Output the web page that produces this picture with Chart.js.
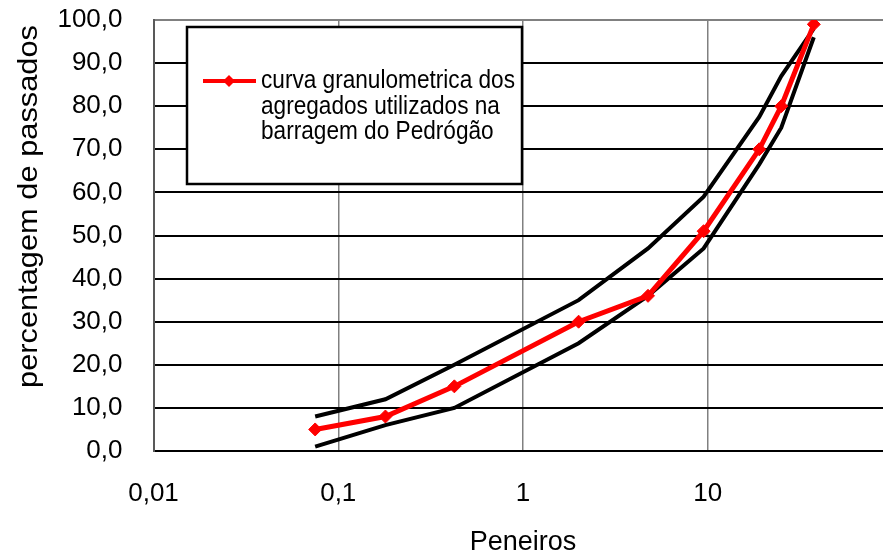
<!DOCTYPE html>
<html>
<head>
<meta charset="utf-8">
<script src="https://cdn.jsdelivr.net/npm/chart.js@4.4.1/dist/chart.umd.min.js"></script>
<style>
  html, body { margin: 0; padding: 0; background: #fff; overflow: hidden; }
  #wrap { width: 883px; height: 556px; overflow: hidden; }
  canvas { display: block; }
</style>
</head>
<body>
<div id="wrap"><canvas id="chart" width="900" height="556"></canvas></div>
<script>
// sieve openings (mm) and % passing
const sieves = [0.075, 0.18, 0.425, 2, 4.75, 9.5, 19, 25, 37.5];
const aggregateCurve = [5, 8, 15, 30, 36, 51, 70, 80, 99];
const upperLimit = [8, 12, 20, 35, 47, 59, 77.5, 87, 98];
const lowerLimit = [1, 6, 10, 25, 36, 47, 66.5, 75, 96];

const xTicks = [0.01, 0.1, 1, 10, 100];
const yTicks = [0, 10, 20, 30, 40, 50, 60, 70, 80, 90, 100];

const seriesLabel = "curva granulometrica dos agregados utilizados na barragem do Pedrógão";
const legendLines = ["curva granulometrica dos", "agregados utilizados na", "barragem do Pedrógão"];
const xTitle = "Peneiros";
const yTitle = "percentagem de passados";

const FONT = "'Liberation Sans', Arial, sans-serif";

function toPoints(values) {
    return sieves.map((s, i) => ({ x: s, y: values[i] }));
}

// stop Chart.js from reserving room for tick labels at the ends
function noEndPadding(scale) {
    scale.paddingTop = 0;
    scale.paddingBottom = 0;
    scale.paddingLeft = 0;
    scale.paddingRight = 0;
}

// legend box + axis titles drawn by hand (Excel-like look)
const decorations = {
    id: "decorations",
    afterDraw(chart) {
        const ctx = chart.ctx;
        const area = chart.chartArea;

        // legend
        ctx.save();
        ctx.fillStyle = "#fff";
        ctx.fillRect(187, 27, 335, 157);
        ctx.strokeStyle = "#000";
        ctx.lineWidth = 2.5;
        ctx.strokeRect(187, 27, 335, 157);

        ctx.strokeStyle = "#ff0000";
        ctx.lineWidth = 4;
        ctx.beginPath();
        ctx.moveTo(203, 81);
        ctx.lineTo(256, 81);
        ctx.stroke();
        ctx.fillStyle = "#ff0000";
        ctx.beginPath();
        ctx.moveTo(229, 75);
        ctx.lineTo(235, 81);
        ctx.lineTo(229, 87);
        ctx.lineTo(223, 81);
        ctx.closePath();
        ctx.fill();

        ctx.fillStyle = "#000";
        ctx.font = "26px " + FONT;
        ctx.textAlign = "left";
        ctx.textBaseline = "alphabetic";
        const baselines = [88, 114, 139];
        legendLines.forEach((line, i) => {
            ctx.save();
            ctx.translate(261, baselines[i]);
            ctx.scale(0.87, 1);
            ctx.fillText(line, 0, 0);
            ctx.restore();
        });
        ctx.restore();

        // x title
        ctx.save();
        ctx.fillStyle = "#000";
        ctx.font = "27px " + FONT;
        ctx.textAlign = "center";
        ctx.textBaseline = "alphabetic";
        ctx.fillText(xTitle, (area.left + area.right) / 2, 550);
        ctx.restore();

        // y title
        ctx.save();
        ctx.fillStyle = "#000";
        ctx.font = "28px " + FONT;
        ctx.textAlign = "center";
        ctx.textBaseline = "alphabetic";
        ctx.translate(37, 206.5);
        ctx.rotate(-Math.PI / 2);
        ctx.scale(1.1, 1);
        ctx.fillText(yTitle, 0, 0);
        ctx.restore();
    }
};

new Chart(document.getElementById("chart"), {
    type: "line",
    data: {
        datasets: [
            {
                label: seriesLabel,
                data: toPoints(aggregateCurve),
                borderColor: "#ff0000",
                backgroundColor: "#ff0000",
                borderWidth: 5,
                pointStyle: "rectRot",
                pointRadius: 6.5,
                pointBorderWidth: 1,
                tension: 0
            },
            {
                label: "upper",
                data: toPoints(upperLimit),
                borderColor: "#000",
                borderWidth: 4,
                pointRadius: 0,
                tension: 0
            },
            {
                label: "lower",
                data: toPoints(lowerLimit),
                borderColor: "#000",
                borderWidth: 4,
                pointRadius: 0,
                tension: 0
            }
        ]
    },
    options: {
        responsive: false,
        animation: false,
        devicePixelRatio: 1,
        layout: { padding: { left: 10, top: 20, right: 3, bottom: 0 } },
        plugins: {
            legend: { display: false },
            tooltip: { enabled: false }
        },
        scales: {
            x: {
                type: "logarithmic",
                min: 0.01,
                max: 100,
                afterBuildTicks: (scale) => {
                    scale.ticks = xTicks.map(v => ({ value: v, major: true }));
                },
                afterFit: (scale) => { scale.height = 105; noEndPadding(scale); },
                grid: {
                    drawTicks: false,
                    lineWidth: 1.5,
                    color: (c) => c.tick && c.tick.value === 0.01 ? "rgba(0,0,0,0)" : "#808080"
                },
                border: { color: "#000", width: 2 },
                ticks: {
                    padding: 27,
                    maxRotation: 0,
                    autoSkip: false,
                    color: "#000",
                    font: { size: 26, family: FONT },
                    callback: (v) => v === 100 ? "" : String(v).replace(".", ",")
                }
            },
            y: {
                min: 0,
                max: 100,
                afterBuildTicks: (scale) => {
                    scale.ticks = yTicks.map(v => ({ value: v }));
                },
                afterFit: (scale) => { scale.width = 143.5; noEndPadding(scale); },
                grid: {
                    drawTicks: false,
                    lineWidth: 2,
                    color: (c) => c.tick && c.tick.value === 100 ? "#808080" : "#000"
                },
                border: { color: "#595959", width: 2 },
                ticks: {
                    padding: 31,
                    color: "#000",
                    font: { size: 26, family: FONT },
                    callback: (v) => v.toFixed(1).replace(".", ",")
                }
            }
        }
    },
    plugins: [decorations]
});
</script>
</body>
</html>
